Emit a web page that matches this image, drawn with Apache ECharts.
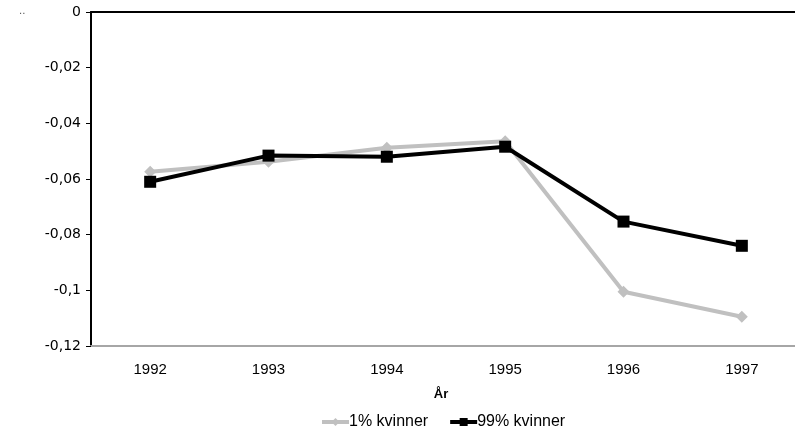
<!DOCTYPE html>
<html>
<head>
<meta charset="utf-8">
<script src="https://cdn.jsdelivr.net/npm/echarts@6/dist/echarts.min.js"></script>
<style>
  html, body { margin: 0; padding: 0; background: #fff; }
  #chart { width: 795px; height: 431px; }
</style>
</head>
<body>
<div id="chart"></div>
<script>
// Years on the category axis
const years = ['1992', '1993', '1994', '1995', '1996', '1997'];
// Series values
const kvinner1 = [-0.0574, -0.0538, -0.0488, -0.0464, -0.1005, -0.1095];
const kvinner99 = [-0.0610, -0.0516, -0.0520, -0.0484, -0.0753, -0.0840];
const seriesNames = ['1% kvinner', '99% kvinner'];
const axisTitle = 'År';

const chart = echarts.init(document.getElementById('chart'), null, { renderer: 'canvas' });

const fmt = v => (v === 0 ? '0' : String(+v.toFixed(2)).replace('.', ','));
const narrow = "'Liberation Sans Narrow', 'Liberation Sans', sans-serif";

chart.setOption({
  animation: false,
  backgroundColor: '#ffffff',
  // plot area runs slightly past the right edge of the canvas
  grid: { left: 91, top: 12, width: 710, height: 334, outerBoundsMode: 'none', containLabel: false },
  legend: {
    top: 409,
    left: 315,
    itemWidth: 27,
    itemHeight: 10,
    itemGap: 20,
    lineStyle: { width: 4 },
    textStyle: { fontFamily: narrow, fontSize: 16, color: '#000', padding: [0, 0, 0, -5] },
    data: seriesNames
  },
  xAxis: [
    {
      type: 'category',
      data: years,
      position: 'bottom',
      boundaryGap: true,
      axisLine: { onZero: false, lineStyle: { color: '#a6a6a6', width: 2 } },
      axisTick: { show: false },
      axisLabel: { color: '#000', fontSize: 15, margin: 16, fontFamily: narrow },
      name: axisTitle,
      nameLocation: 'middle',
      nameGap: 42,
      nameTextStyle: { fontWeight: 'bold', fontSize: 13, color: '#000', fontFamily: narrow, padding: [0, 10, 0, 0] }
    },
    {
      type: 'category',
      data: years,
      position: 'top',
      boundaryGap: true,
      axisLine: { onZero: false, lineStyle: { color: '#000', width: 2 } },
      axisTick: { show: false },
      axisLabel: { show: false }
    }
  ],
  yAxis: {
    type: 'value',
    min: -0.12,
    max: 0,
    interval: 0.02,
    axisLine: { show: true, lineStyle: { color: '#000', width: 2 } },
    axisTick: { show: true, length: 5, lineStyle: { color: '#000', width: 1 } },
    splitLine: { show: false },
    axisLabel: { color: '#000', fontSize: 14, margin: 10, fontFamily: "'DejaVu Sans', sans-serif", formatter: fmt }
  },
  series: [
    {
      name: seriesNames[0],
      type: 'line',
      data: kvinner1,
      symbol: 'diamond',
      symbolSize: 12,
      lineStyle: { color: '#c0c0c0', width: 4 },
      itemStyle: { color: '#c0c0c0' },
      z: 2
    },
    {
      name: seriesNames[1],
      type: 'line',
      data: kvinner99,
      symbol: 'rect',
      symbolSize: 12,
      lineStyle: { color: '#000', width: 4 },
      itemStyle: { color: '#000' },
      z: 3
    }
  ],
  graphic: [
    { type: 'text', left: 19, top: 6, style: { text: '..', fill: '#555', fontSize: 10, fontFamily: 'DejaVu Sans' } }
  ]
});
</script>
</body>
</html>
